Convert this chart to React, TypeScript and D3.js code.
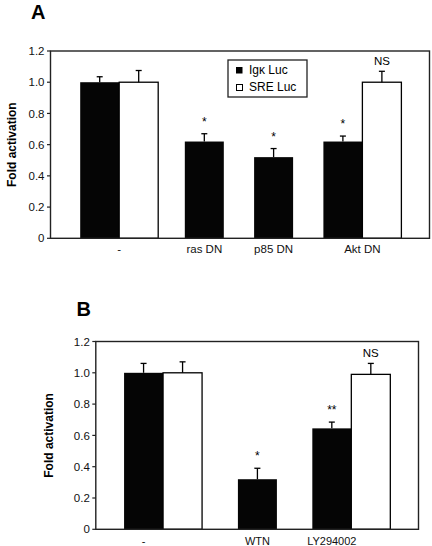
import React from "react";
import * as d3 from "d3";

// ---------- Data ----------
const yTicks = [0, 0.2, 0.4, 0.6, 0.8, 1.0, 1.2];
const seriesNames = ["Igκ Luc", "SRE Luc"];

const panelALabels = ["-", "ras DN", "p85 DN", "Akt DN"];
const panelASlots = [0, 1.51, 2.51, 3.51];
const panelAIgk = [1.0, 0.62, 0.52, 0.62];
const panelAIgkErr = [0.035, 0.05, 0.055, 0.035];
const panelASre: (number | null)[] = [1.0, null, null, 1.0];
const panelASreErr: (number | null)[] = [0.075, null, null, 0.07];
const panelAIgkSig = ["", "*", "*", "*"];
const panelASreSig = ["", "", "", "NS"];
const panelALabelAnchor = ["pair", "black", "black", "pair"];

const panelBLabels = ["-", "WTN", "LY294002"];
const panelBSlots = [0, 1.53, 2.53];
const panelBIgk = [1.0, 0.32, 0.645];
const panelBIgkErr = [0.06, 0.07, 0.04];
const panelBSre: (number | null)[] = [1.0, null, 0.99];
const panelBSreErr: (number | null)[] = [0.07, null, 0.07];
const panelBIgkSig = ["", "*", "**"];
const panelBSreSig = ["", "", "NS"];
const panelBLabelAnchor = ["black", "black", "black"];

const FONT = "Arial, 'Liberation Sans', Helvetica, sans-serif";

type PanelProps = {
  letter: string;
  letterX: number;
  letterY: number;
  frame: { left: number; right: number; top: number; bottom: number };
  slotDomain: [number, number];
  labels: string[];
  slots: number[];
  igk: number[];
  igkErr: number[];
  sre: (number | null)[];
  sreErr: (number | null)[];
  igkSig: string[];
  sreSig: string[];
  labelAnchor: string[];
  labelBaseline: number;
  labelSize: number;
  yLabelX: number;
  showLegend: boolean;
};

const BAR_W = 39;

function Panel(p: PanelProps) {
  const { frame } = p;
  const y = d3.scaleLinear().domain([0, 1.2]).range([frame.bottom, frame.top]);
  const x = d3.scaleLinear().domain(p.slotDomain).range([frame.left, frame.right]);
  const fmt = (v: number) => (v === 0 ? "0" : d3.format(".1f")(v));
  const capW = 6;

  const errBar = (cx: number, v: number, e: number, key: string) => (
    <g key={key} stroke="#000" strokeWidth={1.3}>
      <line x1={cx} x2={cx} y1={y(v)} y2={y(v + e)} />
      <line x1={cx - capW / 2} x2={cx + capW / 2} y1={y(v + e)} y2={y(v + e)} />
    </g>
  );

  return (
    <g>
      <text x={p.letterX} y={p.letterY} fontFamily={FONT} fontWeight="bold" fontSize={20}>
        {p.letter}
      </text>
      <text
        transform={`translate(${p.yLabelX},${(frame.top + frame.bottom) / 2}) rotate(-90)`}
        textAnchor="middle"
        fontFamily={FONT}
        fontWeight="bold"
        fontSize={12}
      >
        Fold activation
      </text>
      {yTicks.map((t) => (
        <g key={t}>
          <line x1={frame.left - 3.5} x2={frame.left} y1={y(t)} y2={y(t)} stroke="#222" strokeWidth={1.2} />
          <text
            x={frame.left - 6}
            y={y(t)}
            dy="0.36em"
            textAnchor="end"
            fontFamily={FONT}
            fontSize={11.5}
            fill="#111"
          >
            {fmt(t)}
          </text>
        </g>
      ))}
      {p.labels.map((lab, i) => {
        const bx = x(p.slots[i]) - BAR_W / 2;
        const sv = p.sre[i];
        const se = p.sreErr[i];
        const hasSre = sv !== null && sv !== undefined;
        const labelX =
          p.labelAnchor[i] === "pair" && hasSre ? bx + BAR_W : bx + BAR_W / 2;
        return (
          <g key={lab}>
            <rect x={bx} y={y(p.igk[i])} width={BAR_W} height={y(0) - y(p.igk[i])} fill="#050505" />
            {errBar(bx + BAR_W / 2, p.igk[i], p.igkErr[i], "ei")}
            {p.igkSig[i] && (
              <text
                x={bx + BAR_W / 2}
                y={y(p.igk[i] + p.igkErr[i]) - 8}
                textAnchor="middle"
                fontFamily={FONT}
                fontSize={12}
              >
                {p.igkSig[i]}
              </text>
            )}
            {hasSre && (
              <>
                <rect
                  x={bx + BAR_W}
                  y={y(sv as number)}
                  width={BAR_W}
                  height={y(0) - y(sv as number)}
                  fill="#fff"
                  stroke="#000"
                  strokeWidth={1.3}
                />
                {errBar(bx + BAR_W * 1.5, sv as number, se as number, "es")}
                {p.sreSig[i] && (
                  <text
                    x={bx + BAR_W * 1.5}
                    y={y((sv as number) + (se as number)) - 6}
                    textAnchor="middle"
                    fontFamily={FONT}
                    fontSize={11.5}
                  >
                    {p.sreSig[i]}
                  </text>
                )}
              </>
            )}
            <text
              x={labelX}
              y={p.labelBaseline}
              textAnchor="middle"
              fontFamily={FONT}
              fontSize={p.labelSize}
              fill="#111"
            >
              {lab}
            </text>
          </g>
        );
      })}
      <rect
        x={frame.left}
        y={frame.top}
        width={frame.right - frame.left}
        height={frame.bottom - frame.top}
        fill="none"
        stroke="#222"
        strokeWidth={1.4}
      />
      {p.showLegend && (
        <g>
          <rect x={228} y={60} width={79} height={37} fill="#fff" stroke="#222" strokeWidth={1.3} />
          <rect x={236} y={67} width={6.5} height={6.5} fill="#000" />
          <rect x={236.5} y={84.5} width={6} height={6} fill="#fff" stroke="#000" strokeWidth={1} />
          <text x={249} y={74} fontFamily={FONT} fontSize={12}>
            {seriesNames[0]}
          </text>
          <text x={249} y={91} fontFamily={FONT} fontSize={12}>
            {seriesNames[1]}
          </text>
        </g>
      )}
    </g>
  );
}

export default function App() {
  return (
    <svg
      width={432}
      height={546}
      style={{ position: "absolute", left: 0, top: 0, background: "#fff" }}
    >
      <rect width={432} height={546} fill="#fff" />
      <Panel
        letter="A"
        letterX={31}
        letterY={18.5}
        frame={{ left: 50.5, right: 429.5, top: 51, bottom: 238.3 }}
        slotDomain={[-0.71, 4.76]}
        labels={panelALabels}
        slots={panelASlots}
        igk={panelAIgk}
        igkErr={panelAIgkErr}
        sre={panelASre}
        sreErr={panelASreErr}
        igkSig={panelAIgkSig}
        sreSig={panelASreSig}
        labelAnchor={panelALabelAnchor}
        labelBaseline={252.5}
        labelSize={11.5}
        yLabelX={15.5}
        showLegend={true}
      />
      <Panel
        letter="B"
        letterX={76.5}
        letterY={316}
        frame={{ left: 95.8, right: 418.5, top: 341.5, bottom: 529.3 }}
        slotDomain={[-0.642, 3.695]}
        labels={panelBLabels}
        slots={panelBSlots}
        igk={panelBIgk}
        igkErr={panelBIgkErr}
        sre={panelBSre}
        sreErr={panelBSreErr}
        igkSig={panelBIgkSig}
        sreSig={panelBSreSig}
        labelAnchor={panelBLabelAnchor}
        labelBaseline={545}
        labelSize={11}
        yLabelX={52.5}
        showLegend={false}
      />
    </svg>
  );
}
